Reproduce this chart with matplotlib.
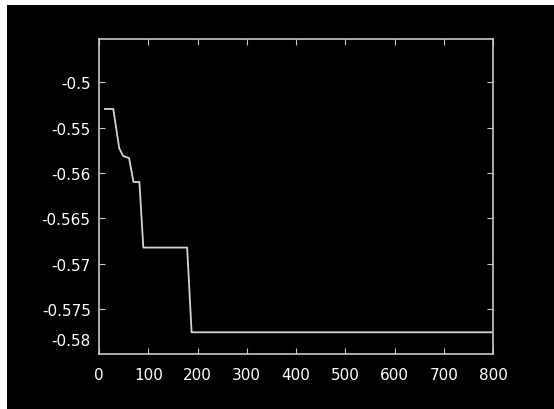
import matplotlib.pyplot as plt
from matplotlib.patches import Rectangle
from matplotlib.transforms import ScaledTranslation

# values
iters = [12, 29, 41, 49, 61, 70, 82, 90, 179, 188, 800]
fval = [-0.55293, -0.55293, -0.55725, -0.55813, -0.55835, -0.56099,
        -0.56099, -0.56824, -0.56824, -0.57760, -0.57760]

ytick_vals = [-0.55, -0.555, -0.56, -0.565, -0.57, -0.575, -0.58]
ytick_labels = ["-0.5", "-0.55", "-0.56", "-0.565", "-0.57", "-0.575", "-0.58"]
xtick_vals = [0, 100, 200, 300, 400, 500, 600, 700, 800]

fg = "#c8c8c8"


def main():
    fig = plt.figure(figsize=(5.54, 4.1), dpi=100, facecolor="white")
    # black panel, with a thin white strip left and top as in the reference
    fig.patches.append(Rectangle((7 / 554, 0), 1 - 7 / 554, 1 - 6 / 410,
                                 transform=fig.transFigure, facecolor="black",
                                 edgecolor="none", zorder=-10))
    ax = fig.add_axes([0.1787, 0.1341, 0.7112, 0.7683], facecolor="black")

    ax.plot(iters, fval, color="#d4d4d4", linewidth=1.3)

    ax.set_xlim(0, 800)
    ax.set_ylim(-0.58, -0.5452)
    ax.set_xticks(xtick_vals)
    ax.set_xticklabels([str(v) for v in xtick_vals])
    ax.set_yticks(ytick_vals)
    ax.set_yticklabels(ytick_labels)

    for s in ax.spines.values():
        s.set_color(fg)
        s.set_linewidth(1.2)
    ax.tick_params(direction="in", length=4, color=fg, labelcolor="white",
                   labelsize=11, top=True, right=True, pad=6)
    ax.tick_params(axis="x", pad=9)

    # the bottom label sits above the axis line in the reference
    ax.yaxis.get_major_ticks()[-1].tick1line.set_visible(False)
    ax.yaxis.get_major_ticks()[-1].tick2line.set_visible(False)
    lab = ax.get_yticklabels()[-1]
    lab.set_transform(lab.get_transform() + ScaledTranslation(0, 0.15, fig.dpi_scale_trans))

    fig.savefig("out.png", dpi=100, facecolor="white")


if __name__ == "__main__":
    main()
